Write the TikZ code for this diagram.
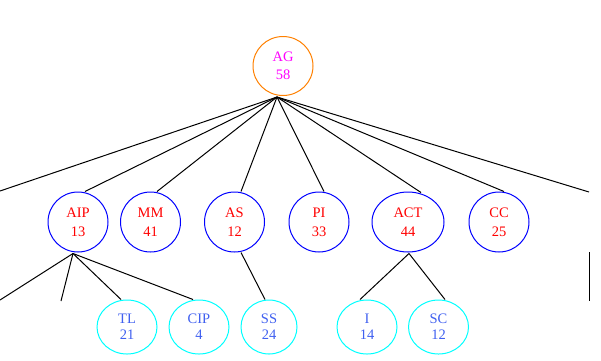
\documentclass[tikz,border=0pt]{standalone}
\usepackage{fontspec}
\setmainfont{Liberation Serif}
\usetikzlibrary{shapes.geometric,calc}
\definecolor{agorange}{RGB}{255,128,0}
\definecolor{agmagenta}{RGB}{255,0,255}
\definecolor{leafcyan}{RGB}{0,255,255}
\definecolor{midblue}{RGB}{0,0,255}
\definecolor{midred}{RGB}{255,0,0}
\definecolor{leafblue}{RGB}{64,96,240}
\begin{document}
\begin{tikzpicture}[x=1pt,y=-1pt,line width=1pt,
  every node/.style={ellipse,inner sep=0pt,align=center,line width=1pt},
  root/.style={draw=agorange,text=agmagenta,minimum width=60pt,minimum height=59pt,font=\fontsize{14.5}{18}\selectfont},
  mid/.style={draw=midblue,text=midred,minimum width=60pt,minimum height=60pt,font=\fontsize{14.5}{19}\selectfont},
  leaf/.style={draw=leafcyan,text=leafblue,minimum width=60pt,minimum height=54pt,font=\fontsize{14.5}{16}\selectfont},
  conn/.style={draw=black,line width=1pt}]
\useasboundingbox (0,0) rectangle (601,360);
% root
\node[root] (ag) at (283,66) {AG\\58};
% level 2
\node[mid] (aip) at (78,222) {AIP\\13};
\node[mid] (mm) at (150.5,222) {MM\\41};
\node[mid] (as) at (234.5,222) {AS\\12};
\node[mid] (pi) at (319,222) {PI\\33};
\node[mid,minimum width=72pt] (act) at (408,222) {ACT\\44};
\node[mid] (cc) at (499,222) {CC\\25};
% level 3
\node[leaf] (tl) at (127,327) {TL\\21};
\node[leaf] (cip) at (199,327) {CIP\\4};
\node[leaf,minimum width=56pt] (ss) at (269,327) {SS\\24};
\node[leaf] (i) at (367,327) {I\\14};
\node[leaf] (sc) at (438.5,327) {SC\\12};
% coordinates
\coordinate (hub) at (277,97);
\coordinate (lout) at (0,191);
\coordinate (rout) at (589,192);
\coordinate (aiphub) at ($(aip.south)+(-5,1)$);
\coordinate (aipl1) at (0,300);
\coordinate (aipl2) at (61,301);
\coordinate (v1) at (589,252);
\coordinate (v2) at (589,301);
% connectors from root
\draw[conn] (hub) -- (lout);
\draw[conn] (hub) -- ($(aip.north)+(7,0)$);
\draw[conn] (hub) -- ($(mm.north)+(6.5,0)$);
\draw[conn] (hub) -- ($(as.north)+(6.5,0)$);
\draw[conn] (hub) -- ($(pi.north)+(5,0)$);
\draw[conn] (hub) -- ($(act.north)+(13,1)$);
\draw[conn] (hub) -- ($(cc.north)+(5,0)$);
\draw[conn] (hub) -- (rout);
% connectors level 2 -> 3
\draw[conn] (aiphub) -- (aipl1);
\draw[conn] (aiphub) -- (aipl2);
\draw[conn] (aiphub) -- ($(tl.north)+(-6,0)$);
\draw[conn] (aiphub) -- ($(cip.north)+(-6,0)$);
\draw[conn] ($(as.south)+(6.5,0)$) -- ($(ss.north)+(-4,0)$);
\draw[conn] ($(act.south)+(1,1)$) -- ($(i.north)+(-7,0)$);
\draw[conn] ($(act.south)+(1,1)$) -- ($(sc.north)+(6.5,0)$);
\draw[conn] (v1) -- (v2);
\end{tikzpicture}
\end{document}
